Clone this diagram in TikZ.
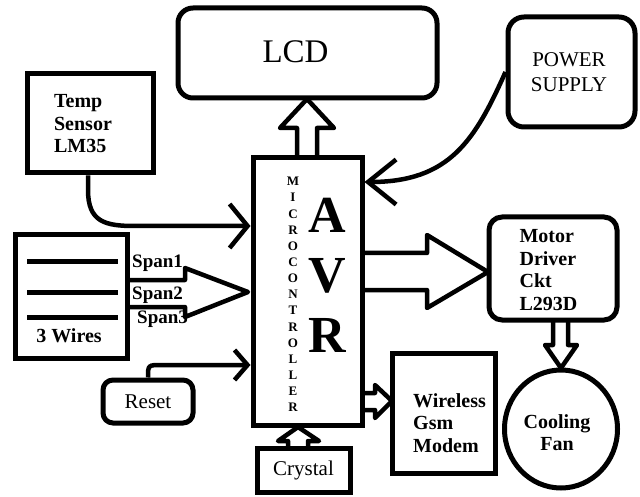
\documentclass[tikz,border=0pt]{standalone}
\usepackage{fontspec}
\setmainfont{Liberation Serif}
\newfontfamily\tnr{Liberation Serif}
\usetikzlibrary{arrows.meta,shapes.geometric}
\tikzset{
  box/.style={draw, line width=5pt, inner sep=0pt},
  rbox/.style={box, rounded corners=14pt},
  fat/.style={draw, fill=white, line width=4.5pt, line join=round},
  wire/.style={line width=5pt},
  conn/.style={line width=4.5pt},
  bt/.style={font=\tnr\bfseries\fontsize{20}{22.5}\selectfont, align=left, inner sep=0pt},
  rt/.style={font=\tnr\fontsize{21}{25}\selectfont, align=center, inner sep=0pt},
  st/.style={font=\tnr\bfseries\fontsize{19}{22}\selectfont, inner sep=0pt, anchor=base west}
}
\begin{document}
\begin{tikzpicture}[x=1pt,y=-1pt]
\fill[white] (0,0) rectangle (640,497);
\useasboundingbox (0,0) rectangle (640,497);

% hollow (fat) arrows
\draw[fat] (297,158) -- (297,128) -- (280,128) -- (307,99) -- (334,128) -- (317,128) -- (317,158);
\draw[fat] (127,280) -- (185,280) -- (185,268) -- (248,292) -- (185,317) -- (185,307) -- (127,307);
\draw[fat] (362,253) -- (427,253) -- (427,235) -- (488,272) -- (427,308) -- (427,290) -- (362,290);
\draw[fat] (553,320) -- (553,345) -- (545,345) -- (561,368) -- (577,345) -- (568,345) -- (568,320);
\draw[fat] (362,393) -- (375,393) -- (375,385) -- (392,401) -- (375,418) -- (375,410) -- (362,410);
\draw[fat] (288,448) -- (288,441) -- (278,441) -- (298,427) -- (319,441) -- (308,441) -- (308,448);

% boxes
\node[rbox, rounded corners=15pt, minimum width=259, minimum height=90] (lcd) at (307.5,53) {};
\node[rbox, rounded corners=16pt, minimum width=127, minimum height=110] (ps) at (571.5,72) {};
\node[box, minimum width=126, minimum height=99] (temp) at (90,123.5) {};
\node[box, minimum width=109, minimum height=267] (mcu) at (307.5,291.5) {};
\node[box, minimum width=112, minimum height=123] (wires) at (71,296.5) {};
\node[rbox, rounded corners=10pt, minimum width=90, minimum height=43, rt] (reset) at (148,401.5) {Reset};
\node[box, minimum width=93, minimum height=44, rt] (crystal) at (303.5,470) {Crystal};
\node[rbox, rounded corners=13pt, minimum width=128, minimum height=103] (motor) at (553,268.5) {};
\node[box, minimum width=103, minimum height=120] (gsm) at (443.5,413) {};
\node[draw, ellipse, line width=5pt, inner sep=0pt, minimum width=113, minimum height=118] (fan) at (561,429) {};

% texts
\node[font=\tnr\fontsize{33}{40}\selectfont, inner sep=0pt] (lcdt) at (295.5,52) {LCD};
\node[rt] (pst) at (569,72.5) {POWER\\SUPPLY};
\node[bt] (tempt) at (83,124) {Temp\\Sensor\\LM35};
\node[bt] (motort) at (548.5,270) {Motor\\Driver\\Ckt\\L293D};
\node[bt] (gsmt) at (449.5,423) {Wireless\\Gsm\\Modem};
\node[bt, align=center] (fant) at (557,432.5) {Cooling\\Fan};
\node[bt] (wirest) at (69,336) {3 Wires};
\node[st] (s1) at (132,268) {Span1};
\node[st] (s2) at (132,299) {Span2};
\node[st] (s3) at (137,323) {Span3};
\node[font=\tnr\bfseries\fontsize{13}{16.14}\selectfont, align=center, inner sep=0pt] (micro) at (293,294.5)
  {M\\I\\C\\R\\O\\C\\O\\N\\T\\R\\O\\L\\L\\E\\R};
\node[font=\tnr\bfseries\fontsize{52}{60}\selectfont, align=center, inner sep=0pt] (avr) at (327.5,275.8) {A\\V\\R};

% wires inside the 3 Wires box
\draw[wire] (27,262) -- (118,262);
\draw[wire] (27,292) -- (118,292);
\draw[wire] (27,317) -- (118,317);

% connectors
\draw[conn, -{Straight Barb[length=18pt,width=44pt]}]
  ([xshift=-2pt]temp.south) -- (88,190) .. controls (88,222) and (105,226) .. (135,226) -- (mcu.west |- 0,226);
\draw[conn, -{Straight Barb[length=28pt,width=45pt]}]
  (ps.west) .. controls (475,140) and (450,182) .. (mcu.east |- 0,182);
\draw[conn, -{Straight Barb[length=13pt,width=30pt]}]
  (reset.north) .. controls (148,365) .. (162,365) -- (mcu.west |- 0,365);
\end{tikzpicture}
\end{document}
